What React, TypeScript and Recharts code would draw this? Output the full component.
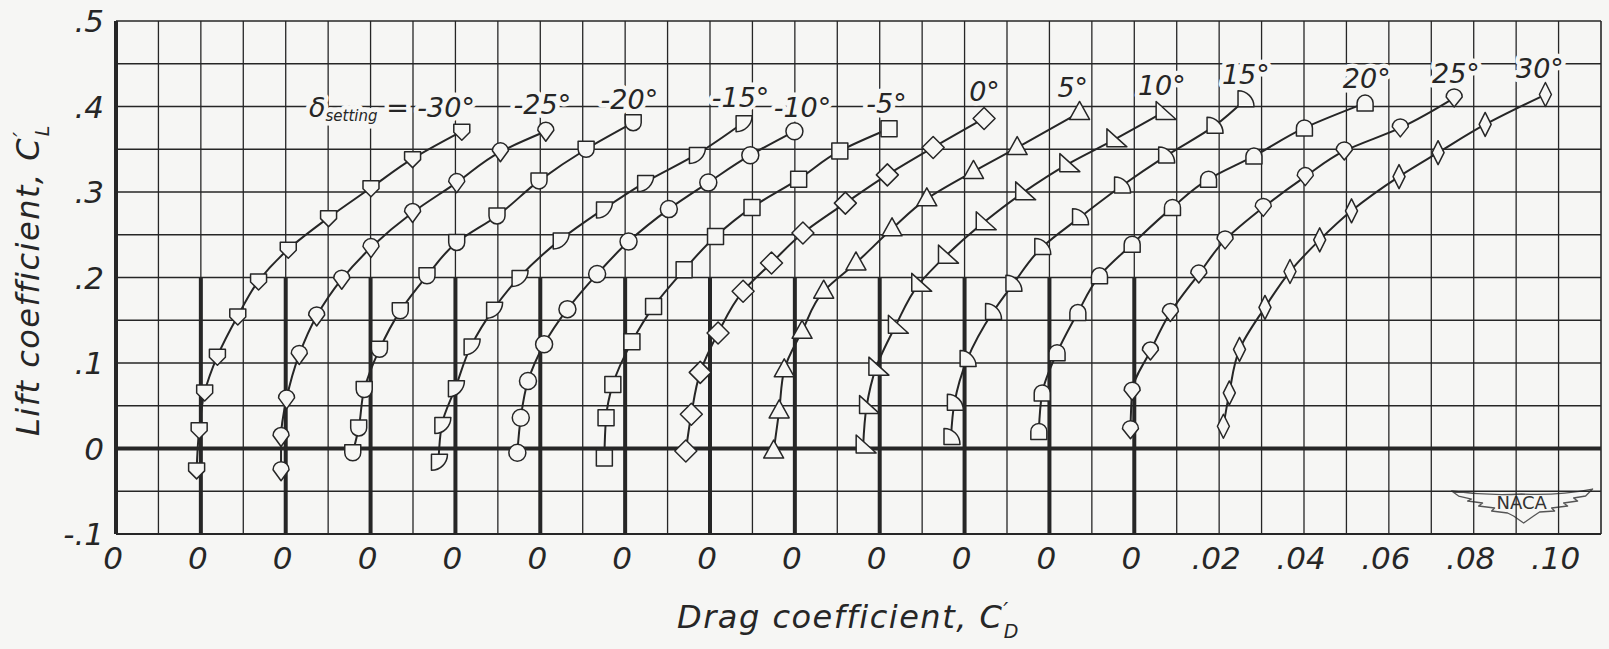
import {
  ReferenceArea,
  ReferenceDot,
  ReferenceLine,
  Scatter,
  ScatterChart,
  XAxis,
  YAxis,
} from 'recharts'

// flap setting, deg (one curve per setting)
const settings = [-30, -25, -20, -15, -10, -5, 0, 5, 10, 15, 20, 25, 30]

// lift coefficient C'L, per setting, low to high
const liftCoef: number[][] = [
  [-0.025, 0.022, 0.066, 0.108, 0.155, 0.196, 0.233, 0.270, 0.305, 0.339, 0.371],
  [-0.026, 0.014, 0.058, 0.110, 0.155, 0.198, 0.235, 0.276, 0.311, 0.347, 0.371],
  [-0.005, 0.024, 0.069, 0.116, 0.161, 0.202, 0.241, 0.272, 0.313, 0.350, 0.381],
  [-0.015, 0.028, 0.071, 0.120, 0.163, 0.200, 0.244, 0.280, 0.311, 0.344, 0.381],
  [-0.005, 0.036, 0.079, 0.122, 0.163, 0.204, 0.242, 0.280, 0.311, 0.343, 0.371],
  [-0.011, 0.036, 0.075, 0.125, 0.166, 0.209, 0.248, 0.282, 0.315, 0.348, 0.374],
  [-0.003, 0.040, 0.089, 0.135, 0.184, 0.217, 0.252, 0.287, 0.320, 0.352, 0.386],
  [-0.003, 0.044, 0.092, 0.137, 0.184, 0.217, 0.257, 0.292, 0.324, 0.352, 0.393],
  [0.003, 0.049, 0.094, 0.143, 0.192, 0.225, 0.264, 0.299, 0.332, 0.361, 0.393],
  [0.013, 0.053, 0.104, 0.159, 0.192, 0.235, 0.270, 0.307, 0.342, 0.377, 0.408],
  [0.020, 0.065, 0.112, 0.159, 0.202, 0.239, 0.282, 0.315, 0.342, 0.375, 0.404],
  [0.022, 0.067, 0.114, 0.159, 0.204, 0.244, 0.282, 0.318, 0.348, 0.375, 0.410],
  [0.026, 0.065, 0.116, 0.165, 0.207, 0.244, 0.278, 0.318, 0.346, 0.379, 0.414],
]

// drag coefficient C'D, same order
const dragCoef: number[][] = [
  [0.0190, 0.0196, 0.0209, 0.0239, 0.0287, 0.0336, 0.0406, 0.0501, 0.0601, 0.0699, 0.0815],
  [0.0189, 0.0189, 0.0202, 0.0232, 0.0273, 0.0332, 0.0401, 0.0499, 0.0603, 0.0706, 0.0813],
  [0.0158, 0.0172, 0.0185, 0.0221, 0.0270, 0.0333, 0.0403, 0.0498, 0.0597, 0.0708, 0.0819],
  [0.0160, 0.0168, 0.0200, 0.0237, 0.0290, 0.0350, 0.0447, 0.0549, 0.0646, 0.0768, 0.0878],
  [0.0146, 0.0154, 0.0171, 0.0209, 0.0264, 0.0334, 0.0408, 0.0503, 0.0596, 0.0695, 0.0799],
  [0.0151, 0.0155, 0.0171, 0.0216, 0.0267, 0.0339, 0.0413, 0.0499, 0.0609, 0.0706, 0.0822],
  [0.0143, 0.0156, 0.0177, 0.0219, 0.0278, 0.0345, 0.0419, 0.0519, 0.0618, 0.0726, 0.0846],
  [0.0150, 0.0163, 0.0175, 0.0217, 0.0268, 0.0344, 0.0429, 0.0511, 0.0621, 0.0724, 0.0871],
  [0.0161, 0.0169, 0.0191, 0.0237, 0.0292, 0.0355, 0.0444, 0.0537, 0.0641, 0.0752, 0.0868],
  [0.0168, 0.0176, 0.0206, 0.0266, 0.0314, 0.0382, 0.0471, 0.0570, 0.0674, 0.0788, 0.0861],
  [0.0175, 0.0183, 0.0218, 0.0267, 0.0318, 0.0395, 0.0490, 0.0575, 0.0682, 0.0801, 0.0944],
  [0.0191, 0.0195, 0.0238, 0.0285, 0.0352, 0.0414, 0.0504, 0.0603, 0.0695, 0.0827, 0.0954],
  [0.0210, 0.0224, 0.0248, 0.0308, 0.0367, 0.0437, 0.0512, 0.0624, 0.0716, 0.0827, 0.0969],
]

// every curve has its own drag origin, 0.02 further right than the last
const originStep = 0.02

const xTicks = [0, 0.02, 0.04, 0.06, 0.08, 0.1, 0.12, 0.14, 0.16, 0.18, 0.2, 0.22, 0.24, 0.26, 0.28, 0.3, 0.32, 0.34]
const xTickLabels = ['0', '0', '0', '0', '0', '0', '0', '0', '0', '0', '0', '0', '0', '.02', '.04', '.06', '.08', '.10']
const yTicks = [-0.1, 0, 0.1, 0.2, 0.3, 0.4, 0.5]
const yTickLabels = ['-.1', '0', '.1', '.2', '.3', '.4', '.5']

// where the setting labels sit, in chart units
const labelX = [0.0846, 0.1005, 0.121, 0.1472, 0.1618, 0.1816, 0.2047, 0.2255, 0.2465, 0.2663, 0.2948, 0.3158, 0.3356]
const labelY = [0.4, 0.402, 0.408, 0.411, 0.399, 0.404, 0.417, 0.422, 0.425, 0.437, 0.433, 0.439, 0.445]

const BG = '#f6f6f4'
const INK = '#262626'
const FONT = '"DejaVu Sans", "Liberation Sans", sans-serif'

const markerKinds = [
  'shield', 'drop', 'cup', 'quarterTL', 'circle', 'square', 'diamond',
  'triangle', 'rightTri', 'quarterBL', 'arch', 'drop2', 'thinDiamond',
]

const markerPaths: Record<string, string> = {
  shield: 'M-8,-7H8V1L0,9L-8,1Z',
  drop: 'M-8,-1A8,8 0 0 1 8,-1L0,10Z',
  cup: 'M-8,-8H8V0A8,8 0 0 1 -8,0Z',
  quarterTL: 'M-7,-7H9A16,16 0 0 1 -7,9Z',
  square: 'M-8,-8H8V8H-8Z',
  diamond: 'M0,-11L11,0L0,11L-11,0Z',
  triangle: 'M0,-11L10,7H-10Z',
  rightTri: 'M-7,-11V7H13Z',
  quarterBL: 'M-7,7V-9A16,16 0 0 1 9,7Z',
  arch: 'M-8,8V0A8,8 0 0 1 8,0V8Z',
  drop2: 'M-8,-1A8,8 0 0 1 8,-1L0,9Z',
  thinDiamond: 'M0,-12L6,0L0,12L-6,0Z',
}

function Marker({ cx, cy, kind }: { cx?: number; cy?: number; kind: string }) {
  if (cx == null || cy == null) return null
  if (kind === 'circle') {
    return <circle cx={cx} cy={cy} r={8.5} fill={BG} stroke={INK} strokeWidth={1.5} />
  }
  return (
    <path
      d={markerPaths[kind]}
      transform={`translate(${cx},${cy})`}
      fill={BG}
      stroke={INK}
      strokeWidth={1.5}
      strokeLinejoin="round"
    />
  )
}

const textStyle = {
  fill: INK,
  fontFamily: FONT,
  fontStyle: 'italic' as const,
}

const haloStyle = {
  stroke: BG,
  strokeWidth: 9,
  strokeLinejoin: 'round' as const,
  paintOrder: 'stroke' as const,
}

function CurveLabel({ viewBox, text, first }: any) {
  const { x, y } = viewBox
  if (first) {
    return (
      <text x={x} y={y} textAnchor="end" dominantBaseline="central" fontSize={27} style={{ ...textStyle, ...haloStyle }}>
        <tspan>δ</tspan>
        <tspan fontSize={15} dy={9}>setting</tspan>
        <tspan dy={-9}>{' = ' + text}</tspan>
      </text>
    )
  }
  return (
    <text x={x} y={y} textAnchor="middle" dominantBaseline="central" fontSize={27} style={{ ...textStyle, ...haloStyle }}>
      {text}
    </text>
  )
}

function XTick({ x, y, payload }: any) {
  const i = xTicks.findIndex((v) => Math.abs(v - payload.value) < 1e-9)
  return (
    <text x={x - 3} y={y + 35} textAnchor="middle" fontSize={31} style={textStyle}>
      {xTickLabels[i]}
    </text>
  )
}

function YTick({ x, y, payload }: any) {
  const i = yTicks.findIndex((v) => Math.abs(v - payload.value) < 1e-9)
  return (
    <text x={x - 12} y={y + 11} textAnchor="end" fontSize={31} style={textStyle}>
      {yTickLabels[i]}
    </text>
  )
}

function XTitle({ viewBox }: any) {
  return (
    <text x={viewBox.x + 561} y={viewBox.y + 94} fontSize={32} letterSpacing={1.5} style={textStyle}>
      Drag coefficient, C
      <tspan fontSize={22} dy={-10}>′</tspan>
      <tspan fontSize={19} dx={-6} dy={20}>D</tspan>
    </text>
  )
}

function YTitle({ viewBox }: any) {
  const x = viewBox.x + 39
  const y = viewBox.y + viewBox.height - 98
  return (
    <text transform={`translate(${x},${y}) rotate(-90)`} fontSize={32} letterSpacing={1.5} style={textStyle}>
      Lift coefficient, C
      <tspan fontSize={22} dy={-10}>′</tspan>
      <tspan fontSize={19} dx={-6} dy={20}>L</tspan>
    </text>
  )
}

function NacaLogo({ viewBox }: any) {
  const cx = viewBox.x + viewBox.width / 2 + 1
  const cy = viewBox.y + viewBox.height / 2
  return (
    <g transform={`translate(${cx},${cy})`}>
      <path
        d="M-70,-14Q-35,-9 0,-11Q35,-9 71,-16L64,-9L52,-7L56,-4L42,-2L46,1L30,3L33,6L18,7L12,11L2,18L-8,11L-14,8L-30,6L-27,3L-43,1L-39,-2L-54,-4L-50,-6L-63,-9Z"
        fill="none"
        stroke="#555"
        strokeWidth={1.3}
        strokeLinejoin="round"
      />
      <text x={0} y={4} textAnchor="middle" fontSize={18} fontFamily={FONT} fill="#333">
        NACA
      </text>
    </g>
  )
}

const series = settings.map((s, k) => ({
  setting: s,
  points: liftCoef[k].map((cl, i) => ({ x: dragCoef[k][i] + originStep * k, y: cl })),
}))

const vGrid = Array.from({ length: 34 }, (_, i) => +((i + 1) * 0.01).toFixed(2))
const hGrid = [-0.05, 0.05, 0.1, 0.15, 0.2, 0.25, 0.3, 0.35, 0.4, 0.45]
const origins = settings.slice(1).map((_, i) => +(originStep * (i + 1)).toFixed(2))

export default function App() {
  return (
    <div style={{ position: 'absolute', left: 0, top: 0, width: 1609, height: 649, background: BG }}>
      <ScatterChart width={1609} height={649} margin={{ top: 21, right: 8, left: 0, bottom: 0 }}>
        <XAxis
          type="number"
          dataKey="x"
          domain={[0, 0.35]}
          ticks={xTicks}
          interval={0}
          allowDataOverflow
          axisLine={false}
          tickLine={false}
          tickSize={0}
          tickMargin={0}
          height={115}
          tick={<XTick />}
          label={{ content: (p: any) => <XTitle viewBox={p.viewBox} /> }}
        />
        <YAxis
          type="number"
          dataKey="y"
          domain={[-0.1, 0.5]}
          ticks={yTicks}
          interval={0}
          allowDataOverflow
          axisLine={false}
          tickLine={false}
          tickSize={0}
          tickMargin={0}
          width={116}
          tick={<YTick />}
          label={{ content: (p: any) => <YTitle viewBox={p.viewBox} /> }}
        />

        {vGrid.map((v) => (
          <ReferenceLine key={'v' + v} x={v} stroke={INK} strokeWidth={1.3} />
        ))}
        {hGrid.map((v) => (
          <ReferenceLine key={'h' + v} y={v} stroke={INK} strokeWidth={1.3} />
        ))}
        <ReferenceLine y={0.5} stroke={INK} strokeWidth={1.6} />
        <ReferenceLine x={0.35} stroke={INK} strokeWidth={1.6} />
        <ReferenceLine y={-0.1} stroke={INK} strokeWidth={2} />
        <ReferenceLine x={0} stroke={INK} strokeWidth={4} />
        <ReferenceLine y={0} stroke={INK} strokeWidth={4} />
        {origins.map((o) => (
          <ReferenceLine
            key={'o' + o}
            segment={[{ x: o, y: -0.1 }, { x: o, y: 0.2 }]}
            stroke={INK}
            strokeWidth={4}
          />
        ))}

        <ReferenceArea
          x1={0.3128}
          x2={0.3493}
          y1={-0.0918}
          y2={-0.0404}
          fill={BG}
          fillOpacity={1}
          stroke="none"
          label={(p: any) => <NacaLogo viewBox={p.viewBox} />}
        />

        {series.map((s, k) => (
          <Scatter
            key={s.setting}
            data={s.points}
            line={{ stroke: INK, strokeWidth: 2 }}
            lineJointType="monotoneY"
            shape={(p: any) => <Marker cx={p.cx} cy={p.cy} kind={markerKinds[k]} />}
            isAnimationActive={false}
          />
        ))}

        {settings.map((s, k) => (
          <ReferenceDot
            key={'l' + s}
            x={labelX[k]}
            y={labelY[k]}
            r={0}
            fill="none"
            stroke="none"
            label={(p: any) => <CurveLabel viewBox={p.viewBox} text={`${s}°`} first={k === 0} />}
          />
        ))}
      </ScatterChart>
    </div>
  )
}
